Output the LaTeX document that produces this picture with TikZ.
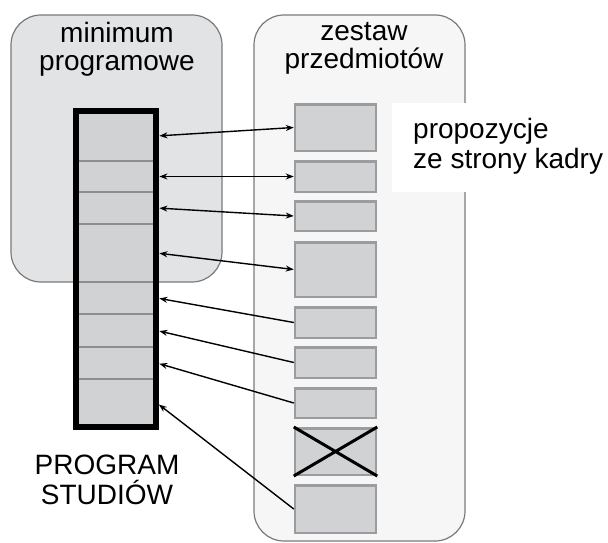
\documentclass[tikz,border=0pt]{standalone}
\usepackage{fontspec}
\setmainfont{Liberation Sans}
\usetikzlibrary{arrows.meta}
\definecolor{panelleft}{HTML}{E2E3E4}
\definecolor{panelright}{HTML}{F6F6F6}
\definecolor{panelline}{HTML}{7A7A7A}
\definecolor{cellgray}{HTML}{D0D2D4}
\definecolor{sepgray}{HTML}{8E8E8E}
\definecolor{boxgray}{HTML}{9B9CA0}
\begin{document}
\begin{tikzpicture}[x=1pt,y=-1pt,
  panel/.style={draw=panelline,line width=1.2pt,rounded corners=30pt},
  labeltext/.style={font=\fontsize{28}{28}\selectfont,align=center,inner sep=0pt},
  cell/.style={draw=sepgray,line width=1.8pt,fill=cellgray,minimum width=80pt,inner sep=0pt},
  item/.style={draw=boxgray,line width=2.5pt,fill=cellgray,minimum width=81pt,inner sep=0pt},
  twoway/.style={line width=1.4pt,{Stealth[length=8pt,width=6pt]}-{Stealth[length=8pt,width=6pt]}},
  oneway/.style={line width=1.4pt,-{Stealth[length=8pt,width=6pt]}}
]
\useasboundingbox (0,0) rectangle (608,543);

\draw [panel,fill=panelleft] (11,15) rectangle (222,282);
\draw [panel,fill=panelright] (254,15) rectangle (465,541);
\fill [white] (392,103) rectangle (608,192);

\node [labeltext] (minimum) at (117,49) {minimum\\programowe};
\node [labeltext] (zestaw) at (364,48) {zestaw\\przedmiotów};
\node [labeltext,font=\fontsize{28}{30}\selectfont,align=left,anchor=west] (kadra) at (413,146) {propozycje\\ze strony kadry};
\node [labeltext,font=\fontsize{28}{30}\selectfont] (program) at (107,480) {PROGRAM\\STUDIÓW};

\foreach \n/\top/\bot in {1/111/161,2/161/192,3/192/224,4/224/282,5/282/314,6/314/347,7/347/379,8/379/427}
  \node [cell,minimum height={\bot-\top}] (c\n) at (116,{(\top+\bot)/2}) {};
\node [draw,line width=6.5pt,minimum width=80pt,minimum height=316pt,inner sep=0pt] (column) at (116,269) {};

\foreach \n/\mid/\h in {1/127.5/49,2/176.5/33,3/216/32,4/269.5/57,5/322.5/33,6/362.5/33,7/403/32,8/451.5/49,9/509/50}
  \node [item,minimum height={\h-2.5}] (b\n) at (335.5,\mid) {};
\draw [line width=3pt] (b8.north west) -- (b8.south east) (b8.south west) -- (b8.north east);

\foreach \n in {1,...,4}
  \draw [twoway,shorten <=2.5pt] (c\n.east) -- (b\n.west);
\foreach \c/\b in {5/5,6/6,7/7,8/9}
  \draw [oneway,shorten >=2.5pt] (b\b.west) -- (c\c.east);

\end{tikzpicture}
\end{document}
